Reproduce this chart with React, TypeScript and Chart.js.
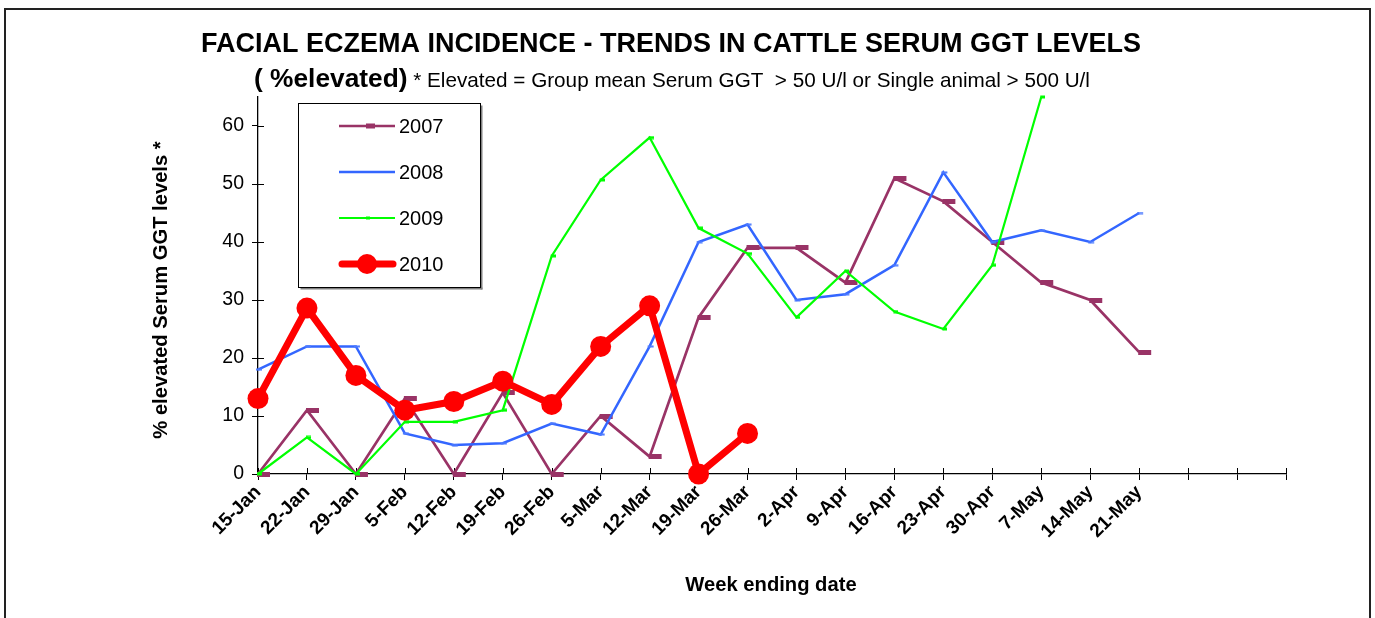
import React, { useEffect, useRef } from 'react';
import { Chart, registerables } from 'chart.js';

Chart.register(...registerables);

const weeks = ['15-Jan', '22-Jan', '29-Jan', '5-Feb', '12-Feb', '19-Feb', '26-Feb', '5-Mar', '12-Mar', '19-Mar', '26-Mar', '2-Apr', '9-Apr', '16-Apr', '23-Apr', '30-Apr', '7-May', '14-May', '21-May', '', '', ''];
const s2007 = [0, 11, 0, 13, 0, 14, 0, 10, 3, 27, 39, 39, 33, 51, 47, 40, 33, 30, 21, null, null, null];
const s2008 = [18, 22, 22, 7, 5, 5.3, 8.7, 6.8, 22, 40, 43, 30, 31, 36, 52, 40, 42, 40, 45, null, null, null];
const s2009 = [0, 6.3, 0, 9, 9, 11, 37.6, 50.7, 58, 42.4, 38, 27, 35, 28, 25, 36, 65, null, null, null, null, null];
const s2010 = [13, 28.6, 17, 11, 12.5, 16, 12, 22, 29, 0, 7, null, null, null, null, null, null, null, null, null, null, null];
const yTicks = [0, 10, 20, 30, 40, 50, 60];

const FONT = "'Liberation Sans', Arial, Helvetica, sans-serif";
const C2007 = '#993366';
const C2008 = '#3366FF';
const C2009 = '#00FF00';
const C2010 = '#FF0000';

function makeMarker(w: number, h: number, rx: number, rw: number, rh: number, color: string) {
  const c = document.createElement('canvas');
  c.width = w;
  c.height = h;
  const g = c.getContext('2d')!;
  g.fillStyle = color;
  g.fillRect(rx, (h - rh) / 2, rw, rh);
  return c;
}

export default function App() {
  const ref = useRef<HTMLCanvasElement>(null);

  useEffect(() => {
    document.body.style.margin = '0';
    document.body.style.overflow = 'hidden';
    const m2007 = makeMarker(26, 5, 12, 13, 5, C2007);
    const m2008 = makeMarker(10, 3, 3, 6, 2, '#4D7BFF');
    const m2009 = makeMarker(8, 4, 3, 5, 3, C2009);

    const decor = {
      id: 'decor',
      beforeDatasetsDraw(chart: any) {
        const ctx = chart.ctx;
        const xs = chart.scales.x;
        const ys = chart.scales.y;
        const area = chart.chartArea;
        ctx.save();
        ctx.strokeStyle = '#000';
        ctx.lineWidth = 1;
        for (let i = 0; i < xs.ticks.length; i++) {
          const px = Math.round(xs.getPixelForTick(i)) + 0.5;
          ctx.beginPath();
          ctx.moveTo(px, area.bottom);
          ctx.lineTo(px, area.bottom - 6);
          ctx.stroke();
        }
        for (let i = 0; i < ys.ticks.length; i++) {
          const py = Math.round(ys.getPixelForTick(i)) + 0.5;
          ctx.beginPath();
          ctx.moveTo(area.left, py);
          ctx.lineTo(area.left + 6, py);
          ctx.stroke();
        }
        ctx.restore();
      },
      afterDraw(chart: any) {
        const ctx = chart.ctx;
        ctx.save();
        // outer frame
        ctx.strokeStyle = '#222';
        ctx.lineWidth = 2;
        ctx.strokeRect(5, 9, 1365, 640);

        // titles
        ctx.fillStyle = '#000';
        ctx.textBaseline = 'alphabetic';
        ctx.textAlign = 'center';
        ctx.font = `bold 27px ${FONT}`;
        ctx.fillText('FACIAL ECZEMA INCIDENCE - TRENDS IN CATTLE SERUM GGT LEVELS', 671, 52);
        const partA = '( %elevated)';
        const partB = ' * Elevated = Group mean Serum GGT  > 50 U/l or Single animal > 500 U/l';
        ctx.font = `bold 26.3px ${FONT}`;
        const wa = ctx.measureText(partA).width;
        ctx.font = `20.7px ${FONT}`;
        const wb = ctx.measureText(partB).width;
        const start = 672 - (wa + wb) / 2;
        ctx.textAlign = 'left';
        ctx.font = `bold 26.3px ${FONT}`;
        ctx.fillText(partA, start, 87);
        ctx.font = `20.7px ${FONT}`;
        ctx.fillText(partB, start + wa, 87);

        // axis titles
        ctx.textAlign = 'center';
        ctx.textBaseline = 'middle';
        ctx.font = `bold 20.2px ${FONT}`;
        ctx.fillText('Week ending date', 771, 585);
        ctx.save();
        ctx.translate(161, 290);
        ctx.rotate(-Math.PI / 2);
        ctx.font = `bold 20.2px ${FONT}`;
        ctx.fillText('% elevated Serum GGT levels *', 0, 0);
        ctx.restore();

        // legend
        const lx = 298.5, ly = 103.5, lw = 182, lh = 184;
        ctx.fillStyle = '#808080';
        ctx.fillRect(lx + 2, ly + lh, lw, 2);
        ctx.fillRect(lx + lw, ly + 2, 2, lh);
        ctx.fillStyle = '#fff';
        ctx.fillRect(lx, ly, lw, lh);
        ctx.strokeStyle = '#000';
        ctx.lineWidth = 1;
        ctx.strokeRect(lx, ly, lw, lh);
        const rows = [
          { label: '2007', color: C2007, width: 2.7, y: 126 },
          { label: '2008', color: C2008, width: 2.5, y: 172 },
          { label: '2009', color: C2009, width: 2.2, y: 218 },
          { label: '2010', color: C2010, width: 7, y: 264 },
        ];
        rows.forEach((r, i) => {
          ctx.strokeStyle = r.color;
          ctx.lineWidth = r.width;
          ctx.lineCap = i === 3 ? 'round' : 'butt';
          ctx.beginPath();
          ctx.moveTo(i === 3 ? 342 : 339, r.y);
          ctx.lineTo(i === 3 ? 393 : 395, r.y);
          ctx.stroke();
          ctx.fillStyle = r.color;
          if (i === 0) ctx.fillRect(366, r.y - 2.5, 9, 5);
          if (i === 1) ctx.fillRect(366, r.y - 1, 5, 2);
          if (i === 2) ctx.fillRect(366, r.y - 1.5, 4, 3);
          if (i === 3) {
            ctx.beginPath();
            ctx.arc(367, r.y, 10, 0, Math.PI * 2);
            ctx.fill();
          }
          ctx.fillStyle = '#000';
          ctx.textAlign = 'left';
          ctx.textBaseline = 'middle';
          ctx.font = `20px ${FONT}`;
          ctx.fillText(r.label, 399, r.y + 1);
        });
        ctx.restore();
      },
    };

    const chart = new Chart(ref.current!, {
      type: 'line',
      data: {
        labels: weeks,
        datasets: [
          {
            label: '2007', data: s2007, borderColor: C2007, backgroundColor: C2007, borderWidth: 2.7,
            pointStyle: m2007 as any, pointRadius: 3, order: 4, clip: false as any, tension: 0, spanGaps: false,
          },
          {
            label: '2008', data: s2008, borderColor: C2008, backgroundColor: C2008, borderWidth: 2.5,
            pointStyle: m2008 as any, pointRadius: 3, order: 3, clip: false as any, tension: 0,
          },
          {
            label: '2009', data: s2009, borderColor: C2009, backgroundColor: C2009, borderWidth: 2.2,
            pointStyle: m2009 as any, pointRadius: 3, order: 2, clip: false as any, tension: 0,
          },
          {
            label: '2010', data: s2010, borderColor: C2010, backgroundColor: C2010, borderWidth: 7,
            pointStyle: 'circle', pointRadius: 10.5, pointBorderWidth: 0, borderJoinStyle: 'round',
            order: 1, clip: false as any, tension: 0,
          },
        ],
      },
      options: {
        responsive: false,
        animation: false,
        events: [],
        layout: { padding: { left: 0, right: 89, top: 97, bottom: 0 }, autoPadding: false } as any,
        plugins: { legend: { display: false }, tooltip: { enabled: false }, title: { display: false } },
        scales: {
          x: {
            type: 'category',
            offset: false,
            grid: { display: true, drawOnChartArea: false, drawTicks: true, tickLength: 6, color: '#000', lineWidth: 1 },
            border: { display: true, color: '#000', width: 1.3 },
            ticks: {
              autoSkip: false, maxRotation: 45, minRotation: 45, padding: 1, color: '#000',
              font: { family: FONT, size: 19, weight: 'bold' },
            },
            afterFit: (s: any) => { s.height = 144; },
          },
          y: {
            min: 0, max: 65,
            grid: { display: true, drawOnChartArea: false, drawTicks: true, tickLength: 6, color: '#000', lineWidth: 1 },
            border: { display: true, color: '#000', width: 1.3 },
            ticks: { stepSize: 10, padding: 8, color: '#000', font: { family: FONT, size: 19.5 } },
            afterBuildTicks: (s: any) => { s.ticks = yTicks.map((v) => ({ value: v })); },
            afterFit: (s: any) => { s.width = 258; },
          },
        },
      } as any,
      plugins: [decor],
    });
    return () => chart.destroy();
  }, []);

  return <canvas ref={ref} width={1375} height={618} style={{ display: 'block' }} />;
}
